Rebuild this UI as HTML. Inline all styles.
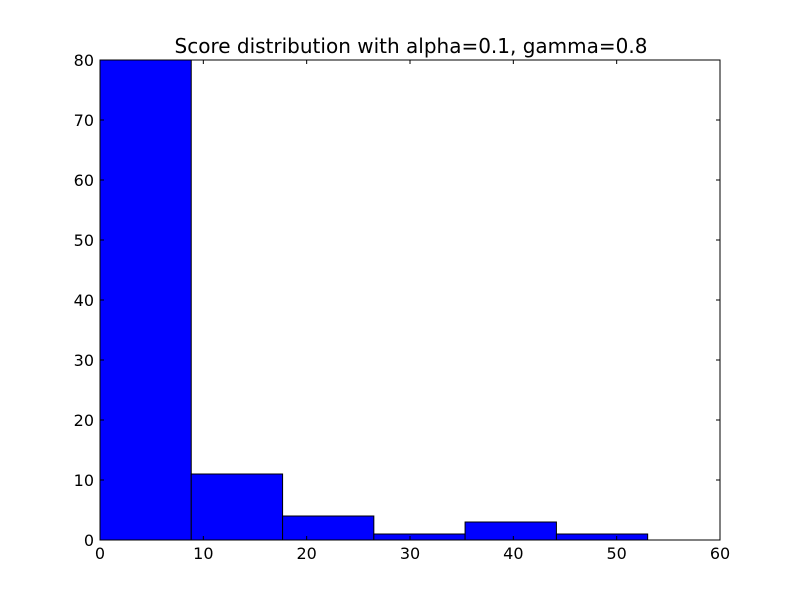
<!DOCTYPE html>
<html><head><meta charset="utf-8"><style>
body{margin:0;background:#fff;}
text{font-family:"DejaVu Sans","Liberation Sans",sans-serif;}
</style></head><body>
<svg id="chart" width="800" height="600" xmlns="http://www.w3.org/2000/svg">
<rect width="800" height="600" fill="#fff"/>
<text x="411" y="53" font-size="20" text-anchor="middle">Score distribution with alpha=0.1, gamma=0.8</text>
<g id="bars"></g>
<g id="ticks"></g>
<rect x="100" y="60" width="620" height="480" fill="none" stroke="#000" stroke-width="1"/>
</svg>
<script>
const binEdges = [0, 8.83, 17.67, 26.5, 35.33, 44.17, 53];
const counts = [80, 11, 4, 1, 3, 1];
const xTicks = [0, 10, 20, 30, 40, 50, 60];
const yTicks = [0, 10, 20, 30, 40, 50, 60, 70, 80];
const X0=100,X1=720,Y0=540,Y1=60,XMAX=60,YMAX=80;
const xs=v=>X0+(X1-X0)*v/XMAX, ys=v=>Y0-(Y0-Y1)*v/YMAX;
const NS="http://www.w3.org/2000/svg";
const bars=document.getElementById('bars'), ticks=document.getElementById('ticks');
function mk(t,a){const e=document.createElementNS(NS,t);for(const k in a)e.setAttribute(k,a[k]);return e;}
counts.forEach((c,i)=>{
  const r=mk('rect',{x:xs(binEdges[i]),y:ys(c),width:xs(binEdges[i+1])-xs(binEdges[i]),height:ys(0)-ys(c),fill:'#0000ff',stroke:'#000','stroke-width':1});
  
  
  bars.appendChild(r);
});
xTicks.forEach(v=>{
  const x=xs(v);
  ticks.appendChild(mk('line',{x1:x,x2:x,y1:540,y2:536,stroke:'#000'}));
  ticks.appendChild(mk('line',{x1:x,x2:x,y1:60,y2:64,stroke:'#000'}));
  const t=mk('text',{x:x,y:559,'font-size':16,'text-anchor':'middle'});
  t.textContent=v;
  
  
  ticks.appendChild(t);
});
yTicks.forEach(v=>{
  const y=ys(v);
  ticks.appendChild(mk('line',{x1:100,x2:104,y1:y,y2:y,stroke:'#000'}));
  ticks.appendChild(mk('line',{x1:716,x2:720,y1:y,y2:y,stroke:'#000'}));
  const t=mk('text',{x:94,y:y+6,'font-size':16,'text-anchor':'end'});
  t.textContent=v;
  
  
  ticks.appendChild(t);
});
</script>
</body></html>
